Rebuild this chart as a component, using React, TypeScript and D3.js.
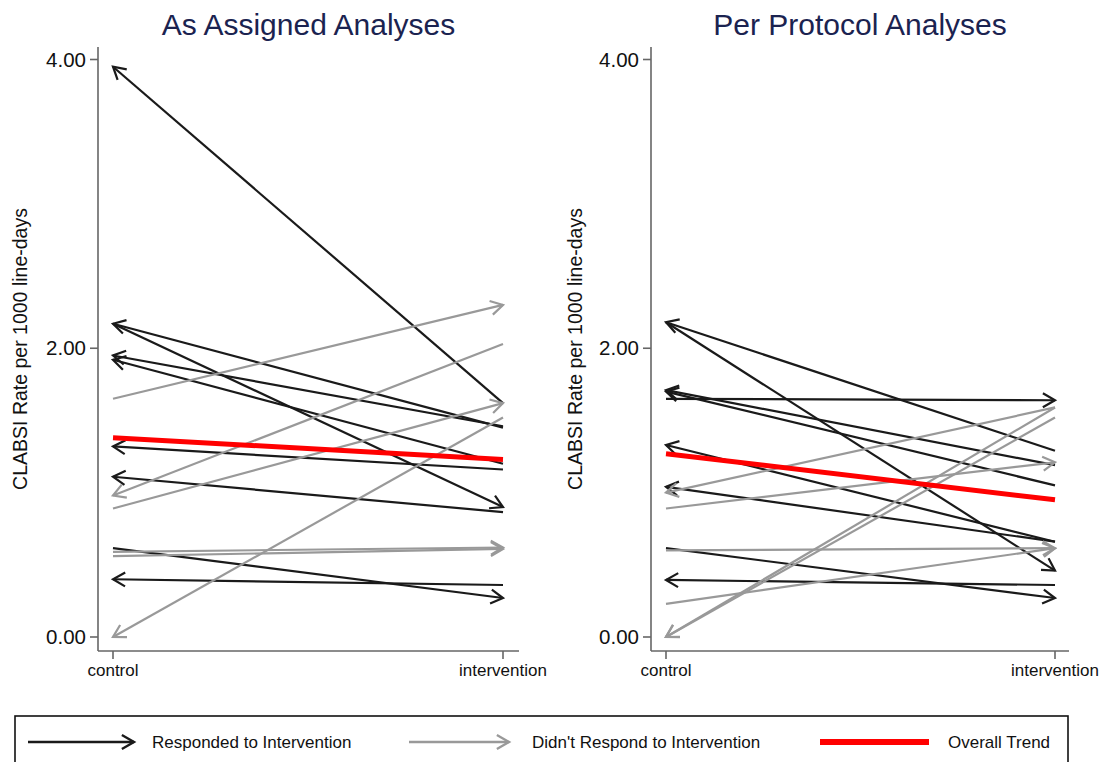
import React from 'react';
import * as d3 from 'd3';

// ---------- data ----------
const categories = ['control', 'intervention'];
const yTicks = [0, 2, 4];
const panelTitles = ['As Assigned Analyses', 'Per Protocol Analyses'];
const yAxisLabel = 'CLABSI Rate per 1000 line-days';
const legendLabels = ['Responded to Intervention', "Didn't Respond to Intervention", 'Overall Trend'];

// As Assigned — responded (black)
const aaRespControl = [3.95, 2.17, 2.17, 1.95, 1.92, 1.32, 1.11, 0.615, 0.4];
const aaRespInterv = [1.62, 1.45, 0.9, 1.46, 1.2, 1.16, 0.865, 0.27, 0.36];
const aaRespHead = ['c', 'c', 'i', 'c', 'c', 'c', 'c', 'i', 'c'];
// As Assigned — didn't respond (gray)
const aaNonControl = [1.65, 0.98, 0.89, 0.0, 0.59, 0.56];
const aaNonInterv = [2.3, 2.03, 1.62, 1.52, 0.62, 0.61];
const aaNonHead = ['i', 'c', 'i', 'c', 'i', 'i'];
// As Assigned — overall trend
const aaTrend = [1.38, 1.23];

// Per Protocol — responded (black)
const ppRespControl = [2.18, 2.18, 1.65, 1.71, 1.7, 1.33, 1.04, 0.615, 0.395];
const ppRespInterv = [1.29, 0.46, 1.64, 1.19, 1.05, 0.66, 0.66, 0.27, 0.36];
const ppRespHead = ['c', 'i', 'i', 'c', 'c', 'c', 'c', 'i', 'c'];
// Per Protocol — didn't respond (gray)
const ppNonControl = [1.0, 0.89, 0.6, 0.23, 0.0, 0.0];
const ppNonInterv = [1.59, 1.21, 0.615, 0.615, 1.59, 1.52];
const ppNonHead = ['c', 'i', 'i', 'i', 'c', 'c'];
// Per Protocol — overall trend
const ppTrend = [1.27, 0.95];

// ---------- styling ----------
const BLACK = '#1a1a1a';
const GRAY = '#999999';
const RED = '#ff0000';
const AXIS = '#666666';
const TITLE = '#1b2350';
const FONT = '"Liberation Sans", Arial, Helvetica, sans-serif';

const W = 1100;
const H = 762;

const y = d3.scaleLinear().domain([0, 4]).range([637, 59.5]);

type Seg = { c: number; i: number; head: string };

function zipSegs(c: number[], iv: number[], h: string[]): Seg[] {
  return c.map((v, k) => ({ c: v, i: iv[k], head: h[k] }));
}

const panels = [
  {
    title: panelTitles[0],
    axisX: 98,
    axisEnd: 519,
    range: [113, 503] as [number, number],
    labelX: 27,
    resp: zipSegs(aaRespControl, aaRespInterv, aaRespHead),
    non: zipSegs(aaNonControl, aaNonInterv, aaNonHead),
    trend: aaTrend,
  },
  {
    title: panelTitles[1],
    axisX: 651,
    axisEnd: 1069,
    range: [666, 1055] as [number, number],
    labelX: 582,
    resp: zipSegs(ppRespControl, ppRespInterv, ppRespHead),
    non: zipSegs(ppNonControl, ppNonInterv, ppNonHead),
    trend: ppTrend,
  },
];

const HEAD_LEN = 14;
const HEAD_ANG = (30 * Math.PI) / 180;
const LW = 2.2;

function arrowPath(x1: number, y1: number, x2: number, y2: number): string {
  const ang = Math.atan2(y1 - y2, x1 - x2);
  const b1x = x2 + HEAD_LEN * Math.cos(ang + HEAD_ANG);
  const b1y = y2 + HEAD_LEN * Math.sin(ang + HEAD_ANG);
  const b2x = x2 + HEAD_LEN * Math.cos(ang - HEAD_ANG);
  const b2y = y2 + HEAD_LEN * Math.sin(ang - HEAD_ANG);
  return `M${b1x},${b1y}L${x2},${y2}L${b2x},${b2y}`;
}

function Segment({ s, x, color }: { s: Seg; x: d3.ScalePoint<string>; color: string }) {
  const xc = x(categories[0]) as number;
  const xi = x(categories[1]) as number;
  const yc = y(s.c);
  const yi = y(s.i);
  const head = s.head === 'c' ? arrowPath(xi, yi, xc, yc) : arrowPath(xc, yc, xi, yi);
  return (
    <g>
      <line x1={xc} y1={yc} x2={xi} y2={yi} stroke={color} strokeWidth={LW} />
      <path d={head} fill="none" stroke={color} strokeWidth={LW} strokeLinejoin="miter" />
    </g>
  );
}

function Panel({ p }: { p: (typeof panels)[number] }) {
  const x = d3.scalePoint<string>().domain(categories).range(p.range);
  const axisY = 651;
  const axisTop = 47;
  const midY = (axisTop + axisY) / 2;
  return (
    <g>
      <text
        x={(p.axisX + p.axisEnd) / 2}
        y={35}
        textAnchor="middle"
        fontFamily={FONT}
        fontSize={30}
        fill={TITLE}
      >
        {p.title}
      </text>
      <line x1={p.axisX} y1={axisTop} x2={p.axisX} y2={axisY} stroke={AXIS} strokeWidth={1.6} />
      {yTicks.map((t) => (
        <g key={t}>
          <line x1={p.axisX - 8} x2={p.axisX} y1={y(t)} y2={y(t)} stroke={AXIS} strokeWidth={1.6} />
          <text
            x={p.axisX - 12}
            y={y(t)}
            dy="0.35em"
            textAnchor="end"
            fontFamily={FONT}
            fontSize={20.5}
            fill="#111"
          >
            {d3.format('.2f')(t)}
          </text>
        </g>
      ))}
      <text
        transform={`translate(${p.labelX},${midY}) rotate(-90)`}
        textAnchor="middle"
        fontFamily={FONT}
        fontSize={19.5}
        fill="#111"
      >
        {yAxisLabel}
      </text>
      <line x1={p.axisX} y1={axisY} x2={p.axisEnd} y2={axisY} stroke={AXIS} strokeWidth={1.6} />
      {categories.map((c) => (
        <g key={c}>
          <line x1={x(c)} x2={x(c)} y1={axisY} y2={axisY + 8} stroke={AXIS} strokeWidth={1.6} />
          <text
            x={x(c)}
            y={axisY + 25}
            textAnchor="middle"
            fontFamily={FONT}
            fontSize={17}
            fill="#111"
          >
            {c}
          </text>
        </g>
      ))}
      {p.resp.map((s, k) => (
        <Segment key={'r' + k} s={s} x={x} color={BLACK} />
      ))}
      {p.non.map((s, k) => (
        <Segment key={'n' + k} s={s} x={x} color={GRAY} />
      ))}
      <line
        x1={x(categories[0])}
        y1={y(p.trend[0])}
        x2={x(categories[1])}
        y2={y(p.trend[1])}
        stroke={RED}
        strokeWidth={5}
      />
    </g>
  );
}

function Legend() {
  const ly = 742;
  const ty = 748;
  return (
    <g>
      <rect x={15} y={716} width={1053} height={80} fill="none" stroke="#111" strokeWidth={1.6} />
      <line x1={28} x2={134} y1={ly} y2={ly} stroke={BLACK} strokeWidth={2.4} />
      <path d={arrowPath(28, ly, 134, ly)} fill="none" stroke={BLACK} strokeWidth={2.4} />
      <text x={152} y={ty} fontFamily={FONT} fontSize={17} fill="#111">
        {legendLabels[0]}
      </text>
      <line x1={409} x2={509} y1={ly} y2={ly} stroke={GRAY} strokeWidth={2.4} />
      <path d={arrowPath(409, ly, 509, ly)} fill="none" stroke={GRAY} strokeWidth={2.4} />
      <text x={532} y={ty} fontFamily={FONT} fontSize={17} fill="#111">
        {legendLabels[1]}
      </text>
      <line x1={820} x2={929} y1={ly} y2={ly} stroke={RED} strokeWidth={6} />
      <text x={948} y={ty} fontFamily={FONT} fontSize={17} fill="#111">
        {legendLabels[2]}
      </text>
    </g>
  );
}

export default function App() {
  return (
    <svg
      width={W}
      height={H}
      viewBox={`0 0 ${W} ${H}`}
      style={{ position: 'absolute', left: 0, top: 0, background: '#fff' }}
    >
      <rect width={W} height={H} fill="#fff" />
      {panels.map((p, k) => (
        <Panel key={k} p={p} />
      ))}
      <Legend />
    </svg>
  );
}
